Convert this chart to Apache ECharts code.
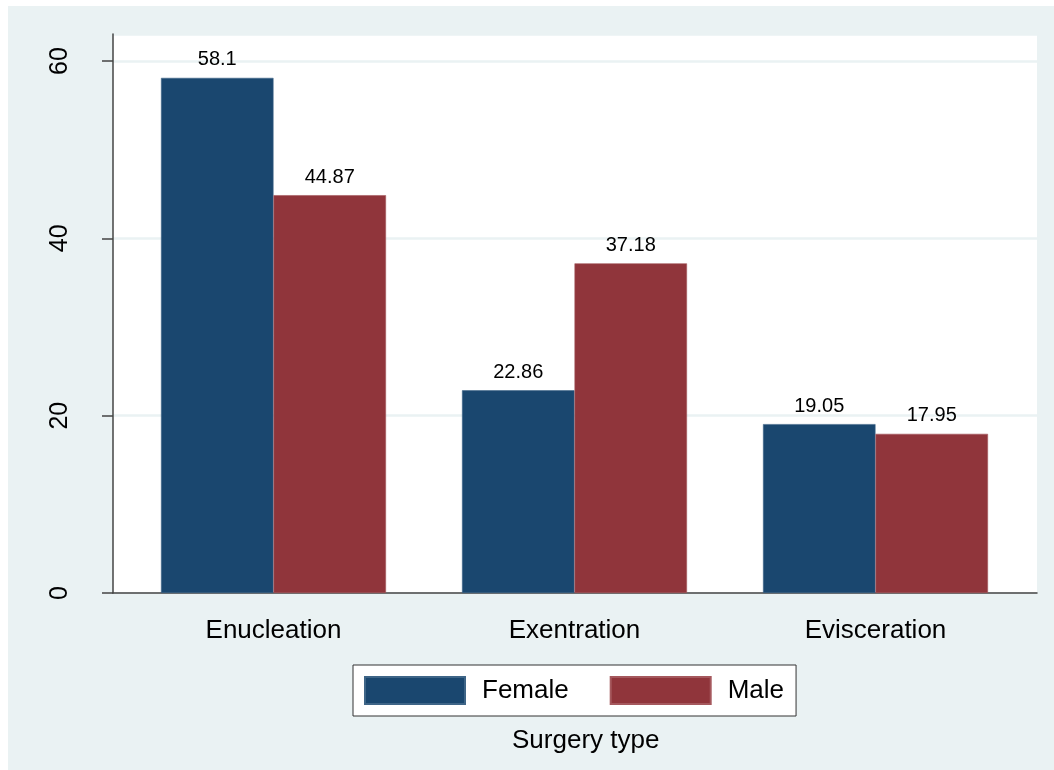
<!DOCTYPE html>
<html>
<head>
<meta charset="utf-8">
<script src="https://cdn.jsdelivr.net/npm/echarts@6/dist/echarts.min.js"></script>
<style>
  html, body { margin: 0; padding: 0; background: #ffffff; }
  #chart { width: 1054px; height: 770px; }
</style>
</head>
<body>
<div id="chart"></div>
<script>
const categories = ['Enucleation', 'Exentration', 'Evisceration'];
const femaleValues = [58.1, 22.86, 19.05];
const maleValues = [44.87, 37.18, 17.95];
const seriesNames = ['Female', 'Male'];
const xTitle = 'Surgery type';
const yMin = 0, yMax = 63.05, yInterval = 20;

const FONT = '"Liberation Sans", Arial, sans-serif';
const chart = echarts.init(document.getElementById('chart'), null, { renderer: 'canvas' });

const labelStyle = {
  show: true, position: 'top', distance: 8,
  fontSize: 20, color: '#000', fontFamily: FONT
};

chart.setOption({
  backgroundColor: '#ffffff',
  animation: false,
  graphic: [{
    type: 'rect', z: -10, silent: true,
    shape: { x: 8, y: 6, width: 1046, height: 764 },
    style: { fill: '#eaf2f3' }
  }],
  title: {
    text: xTitle, left: 512, top: 728, padding: 0,
    textStyle: { fontSize: 26, fontWeight: 'normal', color: '#000', fontFamily: FONT }
  },
  legend: {
    left: 353, top: 665, orient: 'horizontal',
    data: seriesNames,
    icon: 'rect', itemWidth: 100, itemHeight: 27, itemGap: 41,
    padding: [11, 12, 11, 11],
    backgroundColor: '#ffffff', borderColor: '#333', borderWidth: 1, borderRadius: 0,
    textStyle: { fontSize: 26, color: '#000', fontFamily: FONT, padding: [0, 0, 0, 12] }
  },
  grid: [
    { left: 113, top: 34, width: 924, height: 559, show: true, backgroundColor: '#ffffff', borderWidth: 0 },
    { left: 123, top: 34, width: 903, height: 559, show: false }
  ],
  xAxis: [
    {
      gridIndex: 0, type: 'value', min: 0, max: 1,
      axisLine: { show: true, lineStyle: { color: '#444', width: 1.5 } },
      axisTick: { show: false }, axisLabel: { show: false }, splitLine: { show: false }
    },
    {
      gridIndex: 1, type: 'category', data: categories,
      axisLine: { show: false }, axisTick: { show: false },
      axisLabel: { show: true, fontSize: 26, color: '#000', fontFamily: FONT, margin: 25 }
    }
  ],
  yAxis: [
    {
      gridIndex: 0, type: 'value', min: yMin, max: yMax, interval: yInterval,
      axisLine: { show: true, lineStyle: { color: '#444', width: 1.5 } },
      axisTick: { show: true, length: 11, lineStyle: { color: '#444', width: 1.5 } },
      axisLabel: {
        show: true, rotate: 90, fontSize: 25, color: '#000', fontFamily: FONT, margin: 40,
        showMaxLabel: false,
        formatter: function (v) { return (v % yInterval === 0) ? String(v) : ''; }
      },
      splitLine: { show: true, lineStyle: { color: '#eaf2f3', width: 2.5 } }
    },
    {
      gridIndex: 1, type: 'value', min: yMin, max: yMax, show: false
    }
  ],
  series: [
    {
      name: seriesNames[0], type: 'bar', xAxisIndex: 1, yAxisIndex: 1,
      data: femaleValues, barWidth: 112.5, barGap: '0%',
      itemStyle: { color: '#1a476f', borderColor: '#3e6587', borderWidth: 0.6 },
      label: labelStyle
    },
    {
      name: seriesNames[1], type: 'bar', xAxisIndex: 1, yAxisIndex: 1,
      data: maleValues, barWidth: 112.5, barGap: '0%',
      itemStyle: { color: '#90353b', borderColor: '#a5585d', borderWidth: 0.6 },
      label: labelStyle
    }
  ]
});
</script>
</body>
</html>
